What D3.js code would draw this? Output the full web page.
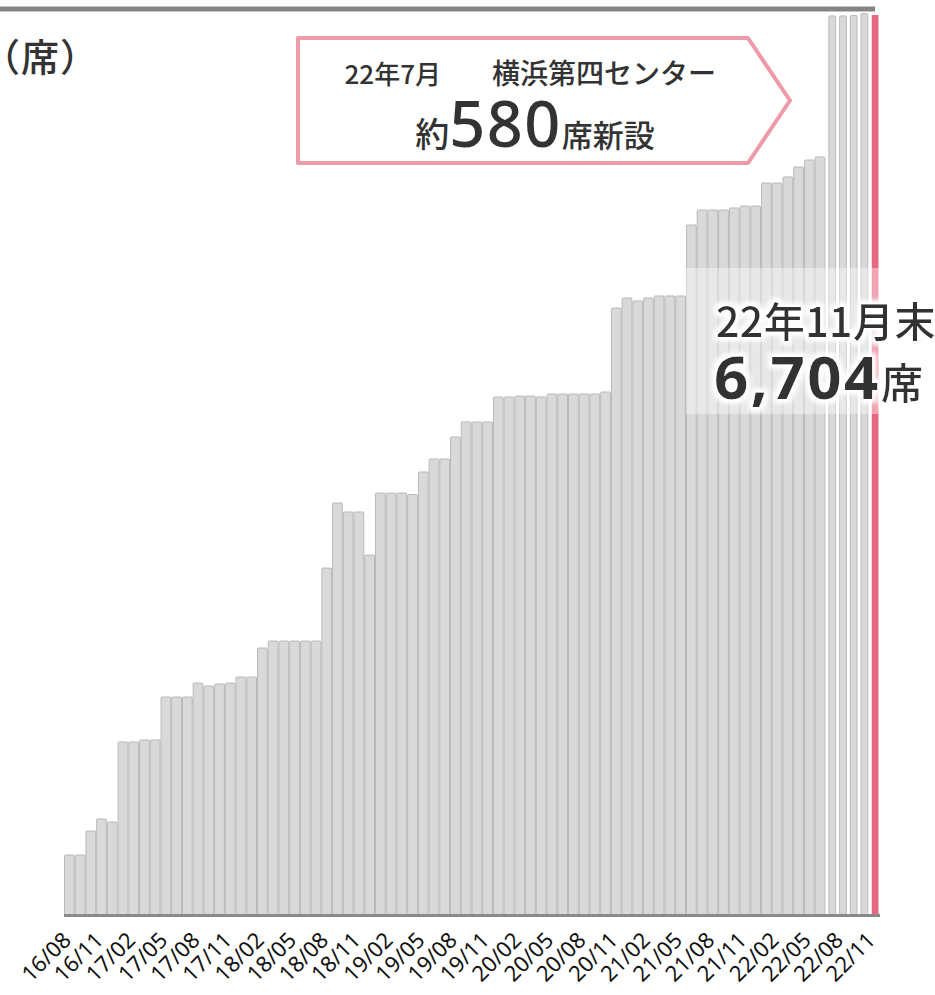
<!DOCTYPE html>
<html lang="ja">
<head>
<meta charset="utf-8">
<script src="https://cdn.jsdelivr.net/npm/d3@7"></script>
<style>
  html, body { margin: 0; padding: 0; background: #fff; }
  svg { display: block; font-family: "Noto Sans CJK JP", "Noto Sans", sans-serif; }
</style>
</head>
<body>
<svg id="chart" width="935" height="995"></svg>
<script>
// Monthly seat counts (seats at month end)
const months = [
  "16/08","16/09","16/10","16/11","16/12",
  "17/01","17/02","17/03","17/04","17/05","17/06","17/07","17/08","17/09","17/10","17/11","17/12",
  "18/01","18/02","18/03","18/04","18/05","18/06","18/07","18/08","18/09","18/10","18/11","18/12",
  "19/01","19/02","19/03","19/04","19/05","19/06","19/07","19/08","19/09","19/10","19/11","19/12",
  "20/01","20/02","20/03","20/04","20/05","20/06","20/07","20/08","20/09","20/10","20/11","20/12",
  "21/01","21/02","21/03","21/04","21/05","21/06","21/07","21/08","21/09","21/10","21/11","21/12",
  "22/01","22/02","22/03","22/04","22/05","22/06","22/07","22/08","22/09","22/10","22/11"
];
const seats = [
  443, 443, 622, 712, 689,
  1286, 1286, 1301, 1301, 1621, 1621, 1621, 1725, 1703, 1718, 1725, 1770,
  1770, 1986, 2038, 2038, 2038, 2038, 2038, 2582, 3067, 3000, 3000, 2679,
  3141, 3141, 3141, 3130, 3298, 3395, 3395, 3559, 3671, 3671, 3671, 3857,
  3857, 3864, 3864, 3857, 3879, 3879, 3879, 3879, 3879, 3894, 4520, 4595,
  4572, 4595, 4610, 4610, 4610, 5139, 5251, 5251, 5251, 5266, 5280, 5280,
  5452, 5452, 5497, 5571, 5623, 5646, 6697, 6697, 6700, 6715, 6704
];
const tickLabels = [
  "16/08","16/11","17/02","17/05","17/08","17/11","18/02","18/05","18/08",
  "18/11","19/02","19/05","19/08","19/11","20/02","20/05","20/08","20/11",
  "21/02","21/05","21/08","21/11","22/02","22/05","22/08","22/11"
];
const unitLabel = "（席）";
const calloutDate = "22年7月";
const calloutSite = "横浜第四センター";
const calloutLine2 = ["約", "580", "席新設"];
const latestLine1 = "22年11月末";
const latestValue = 6704;
const latestUnit = "席";

const svg = d3.select("#chart");
const baseY = 914.5;

const x = d3.scaleBand().domain(months).range([64, 879]).padding(0);
const y = d3.scaleLinear().domain([0, latestValue]).range([baseY, 15]);

// white halo behind the headline figures
const defs = svg.append("defs");
const glow = defs.append("filter").attr("id", "glow")
  .attr("x", "-20%").attr("y", "-30%").attr("width", "140%").attr("height", "160%");
glow.append("feMorphology").attr("in", "SourceAlpha").attr("operator", "dilate").attr("radius", 2.5).attr("result", "thick");
glow.append("feGaussianBlur").attr("in", "thick").attr("stdDeviation", 2.5).attr("result", "blur");
glow.append("feFlood").attr("flood-color", "#ffffff").attr("result", "white");
glow.append("feComposite").attr("in", "white").attr("in2", "blur").attr("operator", "in").attr("result", "halo");
const merge = glow.append("feMerge");
merge.append("feMergeNode").attr("in", "halo");
merge.append("feMergeNode").attr("in", "halo");
merge.append("feMergeNode").attr("in", "SourceGraphic");

// top rule
svg.append("line")
  .attr("x1", 0).attr("x2", 875).attr("y1", 9).attr("y2", 9)
  .attr("stroke", "#858585").attr("stroke-width", 5);

// bars
const last = months.length - 1;
const recentStart = months.indexOf("22/07");
svg.append("g").selectAll("rect")
  .data(months.map((m, i) => ({ m, v: seats[i], i })))
  .join("rect")
  .attr("x", d => x(d.m) + (d.i >= recentStart ? 3.5 : 0.5))
  .attr("width", d => x.bandwidth() - (d.i >= recentStart ? 4 : 1))
  .attr("y", d => y(d.v))
  .attr("height", d => baseY - y(d.v))
  .attr("rx", d => d.i === last ? 0 : 1)
  .attr("fill", d => d.i === last ? "#e8687f" : "#d9d9d9")
  .attr("stroke", d => d.i === last ? "none" : "#b9b9b9")
  .attr("stroke-width", 1);

// x axis, quarterly labels
const xAxis = d3.axisBottom(x).tickValues(tickLabels).tickSize(0).tickPadding(0);
const gx = svg.append("g").attr("transform", `translate(0,${baseY})`).call(xAxis);
gx.attr("font-size", null).attr("font-family", null);
gx.select(".domain").remove();
gx.selectAll("text")
  .style("font-family", "'Noto Sans', sans-serif")
  .style("font-size", "22px")
  .attr("fill", "#111")
  .attr("text-anchor", "end")
  .attr("dy", null)
  .attr("y", 0)
  .attr("transform", "translate(3,27) rotate(-45)");

svg.append("line")
  .attr("x1", 64).attr("x2", 880).attr("y1", baseY + 1).attr("y2", baseY + 1)
  .attr("stroke", "#8a8a8a").attr("stroke-width", 3);

// unit label (proportional brackets)
svg.append("text").attr("x", 1).attr("y", 71)
  .attr("font-size", 38).attr("font-weight", 500).attr("fill", "#333")
  .attr("letter-spacing", 1)
  .style("font-feature-settings", "'halt' 1")
  .text(unitLabel);

// callout box for the July 2022 opening
const box = { l: 298, t: 38, r: 748, b: 163, tip: 790 };
svg.append("polygon")
  .attr("points", [[box.l, box.t], [box.r, box.t], [box.tip, (box.t + box.b) / 2], [box.r, box.b], [box.l, box.b]].join(" "))
  .attr("fill", "#fff").attr("stroke", "#ef9aa9").attr("stroke-width", 4).attr("stroke-linejoin", "round");

const t1 = svg.append("text").attr("y", 84)
  .attr("font-weight", 500).attr("fill", "#333");
t1.append("tspan").attr("x", 441).attr("text-anchor", "end").attr("font-size", 26).text(calloutDate);
t1.append("tspan").attr("x", 492).attr("text-anchor", "start").attr("font-size", 28).text(calloutSite);

const t2 = svg.append("text").attr("x", 535).attr("y", 147)
  .attr("text-anchor", "middle").attr("fill", "#333").attr("font-weight", 500);
t2.append("tspan").attr("font-size", 34).text(calloutLine2[0]);
t2.append("tspan").attr("font-size", 63).attr("letter-spacing", 1.5)
  .style("font-family", "'Noto Sans', sans-serif").text(calloutLine2[1]);
t2.append("tspan").attr("font-size", 31).text(calloutLine2[2]);

// latest total highlight
svg.append("rect")
  .attr("x", x("21/06")).attr("y", 268)
  .attr("width", 880 - x("21/06")).attr("height", 146)
  .attr("fill", "#fff").attr("fill-opacity", 0.4);

const hl = svg.append("g").attr("filter", "url(#glow)");
hl.append("text").attr("x", 716).attr("y", 337)
  .attr("font-size", 41).attr("font-weight", 500).attr("letter-spacing", 0.5)
  .attr("fill", "#333").text(latestLine1);
const t3 = hl.append("text").attr("x", 714).attr("y", 399).attr("fill", "#333");
t3.append("tspan").attr("font-size", 60).attr("font-weight", 700).attr("letter-spacing", 2.5)
  .style("font-family", "'Noto Sans', sans-serif")
  .text(d3.format(",")(latestValue));
t3.append("tspan").attr("font-size", 42).attr("font-weight", 500).text(latestUnit);
</script>
</body>
</html>
